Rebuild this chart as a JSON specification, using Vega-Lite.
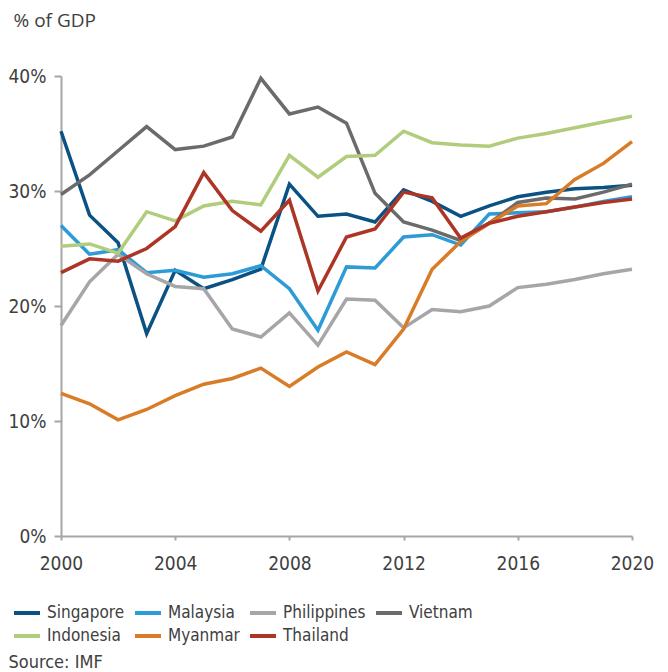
{
  "$schema": "https://vega.github.io/schema/vega-lite/v6.json",
  "width": 571,
  "height": 460,
  "autosize": {"type": "none"},
  "padding": {"left": 61, "top": 76, "right": 36, "bottom": 136},
  "background": "white",
  "config": {
    "view": {"stroke": null},
    "font": "DejaVu Sans Condensed, Roboto",
    "axis": {
      "domainColor": "#a6a6a6",
      "domainWidth": 2,
      "tickColor": "#a6a6a6",
      "tickWidth": 2,
      "grid": false,
      "labelColor": "#404040",
      "labelFont": "DejaVu Sans Condensed, Roboto",
      "labelFontSize": 19,
      "titleColor": "#404040",
      "titleFontWeight": "normal"
    },
    "legend": {
      "labelFont": "DejaVu Sans Condensed, Roboto",
      "labelFontSize": 17,
      "labelColor": "#404040"
    }
  },
  "datasets": {
    "gdp": [
      {"country": "Singapore", "year": 2000, "value": 35.2},
      {"country": "Singapore", "year": 2001, "value": 27.9},
      {"country": "Singapore", "year": 2002, "value": 25.5},
      {"country": "Singapore", "year": 2003, "value": 17.6},
      {"country": "Singapore", "year": 2004, "value": 23.1},
      {"country": "Singapore", "year": 2005, "value": 21.5},
      {"country": "Singapore", "year": 2006, "value": 22.3},
      {"country": "Singapore", "year": 2007, "value": 23.2},
      {"country": "Singapore", "year": 2008, "value": 30.6},
      {"country": "Singapore", "year": 2009, "value": 27.8},
      {"country": "Singapore", "year": 2010, "value": 28.0},
      {"country": "Singapore", "year": 2011, "value": 27.3},
      {"country": "Singapore", "year": 2012, "value": 30.1},
      {"country": "Singapore", "year": 2013, "value": 29.1},
      {"country": "Singapore", "year": 2014, "value": 27.8},
      {"country": "Singapore", "year": 2015, "value": 28.7},
      {"country": "Singapore", "year": 2016, "value": 29.5},
      {"country": "Singapore", "year": 2017, "value": 29.9},
      {"country": "Singapore", "year": 2018, "value": 30.2},
      {"country": "Singapore", "year": 2019, "value": 30.3},
      {"country": "Singapore", "year": 2020, "value": 30.5},
      {"country": "Malaysia", "year": 2000, "value": 27.0},
      {"country": "Malaysia", "year": 2001, "value": 24.5},
      {"country": "Malaysia", "year": 2002, "value": 24.9},
      {"country": "Malaysia", "year": 2003, "value": 22.9},
      {"country": "Malaysia", "year": 2004, "value": 23.1},
      {"country": "Malaysia", "year": 2005, "value": 22.5},
      {"country": "Malaysia", "year": 2006, "value": 22.8},
      {"country": "Malaysia", "year": 2007, "value": 23.5},
      {"country": "Malaysia", "year": 2008, "value": 21.5},
      {"country": "Malaysia", "year": 2009, "value": 17.9},
      {"country": "Malaysia", "year": 2010, "value": 23.4},
      {"country": "Malaysia", "year": 2011, "value": 23.3},
      {"country": "Malaysia", "year": 2012, "value": 26.0},
      {"country": "Malaysia", "year": 2013, "value": 26.2},
      {"country": "Malaysia", "year": 2014, "value": 25.3},
      {"country": "Malaysia", "year": 2015, "value": 28.0},
      {"country": "Malaysia", "year": 2016, "value": 28.1},
      {"country": "Malaysia", "year": 2017, "value": 28.2},
      {"country": "Malaysia", "year": 2018, "value": 28.6},
      {"country": "Malaysia", "year": 2019, "value": 29.1},
      {"country": "Malaysia", "year": 2020, "value": 29.5},
      {"country": "Philippines", "year": 2000, "value": 18.3},
      {"country": "Philippines", "year": 2001, "value": 22.1},
      {"country": "Philippines", "year": 2002, "value": 24.5},
      {"country": "Philippines", "year": 2003, "value": 22.8},
      {"country": "Philippines", "year": 2004, "value": 21.7},
      {"country": "Philippines", "year": 2005, "value": 21.5},
      {"country": "Philippines", "year": 2006, "value": 18.0},
      {"country": "Philippines", "year": 2007, "value": 17.3},
      {"country": "Philippines", "year": 2008, "value": 19.4},
      {"country": "Philippines", "year": 2009, "value": 16.6},
      {"country": "Philippines", "year": 2010, "value": 20.6},
      {"country": "Philippines", "year": 2011, "value": 20.5},
      {"country": "Philippines", "year": 2012, "value": 18.1},
      {"country": "Philippines", "year": 2013, "value": 19.7},
      {"country": "Philippines", "year": 2014, "value": 19.5},
      {"country": "Philippines", "year": 2015, "value": 20.0},
      {"country": "Philippines", "year": 2016, "value": 21.6},
      {"country": "Philippines", "year": 2017, "value": 21.9},
      {"country": "Philippines", "year": 2018, "value": 22.3},
      {"country": "Philippines", "year": 2019, "value": 22.8},
      {"country": "Philippines", "year": 2020, "value": 23.2},
      {"country": "Vietnam", "year": 2000, "value": 29.7},
      {"country": "Vietnam", "year": 2001, "value": 31.4},
      {"country": "Vietnam", "year": 2002, "value": 33.5},
      {"country": "Vietnam", "year": 2003, "value": 35.6},
      {"country": "Vietnam", "year": 2004, "value": 33.6},
      {"country": "Vietnam", "year": 2005, "value": 33.9},
      {"country": "Vietnam", "year": 2006, "value": 34.7},
      {"country": "Vietnam", "year": 2007, "value": 39.8},
      {"country": "Vietnam", "year": 2008, "value": 36.7},
      {"country": "Vietnam", "year": 2009, "value": 37.3},
      {"country": "Vietnam", "year": 2010, "value": 35.9},
      {"country": "Vietnam", "year": 2011, "value": 29.8},
      {"country": "Vietnam", "year": 2012, "value": 27.3},
      {"country": "Vietnam", "year": 2013, "value": 26.6},
      {"country": "Vietnam", "year": 2014, "value": 25.7},
      {"country": "Vietnam", "year": 2015, "value": 27.2},
      {"country": "Vietnam", "year": 2016, "value": 29.0},
      {"country": "Vietnam", "year": 2017, "value": 29.4},
      {"country": "Vietnam", "year": 2018, "value": 29.3},
      {"country": "Vietnam", "year": 2019, "value": 29.9},
      {"country": "Vietnam", "year": 2020, "value": 30.6},
      {"country": "Indonesia", "year": 2000, "value": 25.2},
      {"country": "Indonesia", "year": 2001, "value": 25.4},
      {"country": "Indonesia", "year": 2002, "value": 24.6},
      {"country": "Indonesia", "year": 2003, "value": 28.2},
      {"country": "Indonesia", "year": 2004, "value": 27.4},
      {"country": "Indonesia", "year": 2005, "value": 28.7},
      {"country": "Indonesia", "year": 2006, "value": 29.1},
      {"country": "Indonesia", "year": 2007, "value": 28.8},
      {"country": "Indonesia", "year": 2008, "value": 33.1},
      {"country": "Indonesia", "year": 2009, "value": 31.2},
      {"country": "Indonesia", "year": 2010, "value": 33.0},
      {"country": "Indonesia", "year": 2011, "value": 33.1},
      {"country": "Indonesia", "year": 2012, "value": 35.2},
      {"country": "Indonesia", "year": 2013, "value": 34.2},
      {"country": "Indonesia", "year": 2014, "value": 34.0},
      {"country": "Indonesia", "year": 2015, "value": 33.9},
      {"country": "Indonesia", "year": 2016, "value": 34.6},
      {"country": "Indonesia", "year": 2017, "value": 35.0},
      {"country": "Indonesia", "year": 2018, "value": 35.5},
      {"country": "Indonesia", "year": 2019, "value": 36.0},
      {"country": "Indonesia", "year": 2020, "value": 36.5},
      {"country": "Myanmar", "year": 2000, "value": 12.4},
      {"country": "Myanmar", "year": 2001, "value": 11.5},
      {"country": "Myanmar", "year": 2002, "value": 10.1},
      {"country": "Myanmar", "year": 2003, "value": 11.0},
      {"country": "Myanmar", "year": 2004, "value": 12.2},
      {"country": "Myanmar", "year": 2005, "value": 13.2},
      {"country": "Myanmar", "year": 2006, "value": 13.7},
      {"country": "Myanmar", "year": 2007, "value": 14.6},
      {"country": "Myanmar", "year": 2008, "value": 13.0},
      {"country": "Myanmar", "year": 2009, "value": 14.7},
      {"country": "Myanmar", "year": 2010, "value": 16.0},
      {"country": "Myanmar", "year": 2011, "value": 14.9},
      {"country": "Myanmar", "year": 2012, "value": 18.0},
      {"country": "Myanmar", "year": 2013, "value": 23.2},
      {"country": "Myanmar", "year": 2014, "value": 25.6},
      {"country": "Myanmar", "year": 2015, "value": 27.2},
      {"country": "Myanmar", "year": 2016, "value": 28.7},
      {"country": "Myanmar", "year": 2017, "value": 28.9},
      {"country": "Myanmar", "year": 2018, "value": 31.0},
      {"country": "Myanmar", "year": 2019, "value": 32.4},
      {"country": "Myanmar", "year": 2020, "value": 34.3},
      {"country": "Thailand", "year": 2000, "value": 22.9},
      {"country": "Thailand", "year": 2001, "value": 24.1},
      {"country": "Thailand", "year": 2002, "value": 23.9},
      {"country": "Thailand", "year": 2003, "value": 25.0},
      {"country": "Thailand", "year": 2004, "value": 26.9},
      {"country": "Thailand", "year": 2005, "value": 31.6},
      {"country": "Thailand", "year": 2006, "value": 28.3},
      {"country": "Thailand", "year": 2007, "value": 26.5},
      {"country": "Thailand", "year": 2008, "value": 29.2},
      {"country": "Thailand", "year": 2009, "value": 21.3},
      {"country": "Thailand", "year": 2010, "value": 26.0},
      {"country": "Thailand", "year": 2011, "value": 26.7},
      {"country": "Thailand", "year": 2012, "value": 29.9},
      {"country": "Thailand", "year": 2013, "value": 29.4},
      {"country": "Thailand", "year": 2014, "value": 25.9},
      {"country": "Thailand", "year": 2015, "value": 27.2},
      {"country": "Thailand", "year": 2016, "value": 27.8},
      {"country": "Thailand", "year": 2017, "value": 28.2},
      {"country": "Thailand", "year": 2018, "value": 28.6},
      {"country": "Thailand", "year": 2019, "value": 29.0},
      {"country": "Thailand", "year": 2020, "value": 29.3}
    ]
  },
  "data": {"name": "gdp"},
  "mark": {"type": "line", "strokeWidth": 3.5, "strokeJoin": "miter"},
  "encoding": {
    "x": {
      "field": "year",
      "type": "quantitative",
      "scale": {"domain": [2000, 2020], "nice": false, "zero": false},
      "axis": {
        "values": [2000, 2004, 2008, 2012, 2016, 2020],
        "format": "d",
        "tickSize": 4,
        "labelPadding": 14,
        "labelFlush": false,
        "title": "Source: IMF",
        "titleFont": "DejaVu Sans Condensed, Roboto",
        "titleFontSize": 18,
        "titleAlign": "left",
        "titleBaseline": "middle",
        "titleAnchor": "start",
        "titleX": -53,
        "titleY": 126
      }
    },
    "y": {
      "field": "value",
      "type": "quantitative",
      "scale": {"domain": [0, 40], "nice": false},
      "axis": {
        "values": [0, 10, 20, 30, 40],
        "labelExpr": "datum.value + '%'",
        "tickSize": 7,
        "labelPadding": 8,
        "title": "% of GDP",
        "titleFont": "Open Sans",
        "titleFontSize": 19,
        "titleAngle": 0,
        "titleAlign": "left",
        "titleBaseline": "middle",
        "titleX": -48,
        "titleY": -56
      }
    },
    "color": {
      "field": "country",
      "type": "nominal",
      "scale": {
        "domain": ["Singapore", "Malaysia", "Philippines", "Vietnam", "Indonesia", "Myanmar", "Thailand"],
        "range": ["#0a5283", "#2c9bd6", "#a6a6a8", "#6b6b6b", "#b1cd7c", "#d97c27", "#ad3526"]
      },
      "legend": {
        "title": null,
        "orient": "none",
        "legendX": -49,
        "legendY": 522,
        "direction": "horizontal",
        "columns": 4,
        "columnPadding": 2,
        "rowPadding": -3,
        "symbolType": "stroke",
        "symbolSize": 676,
        "symbolStrokeWidth": 4,
        "labelOffset": 5
      }
    }
  }
}
